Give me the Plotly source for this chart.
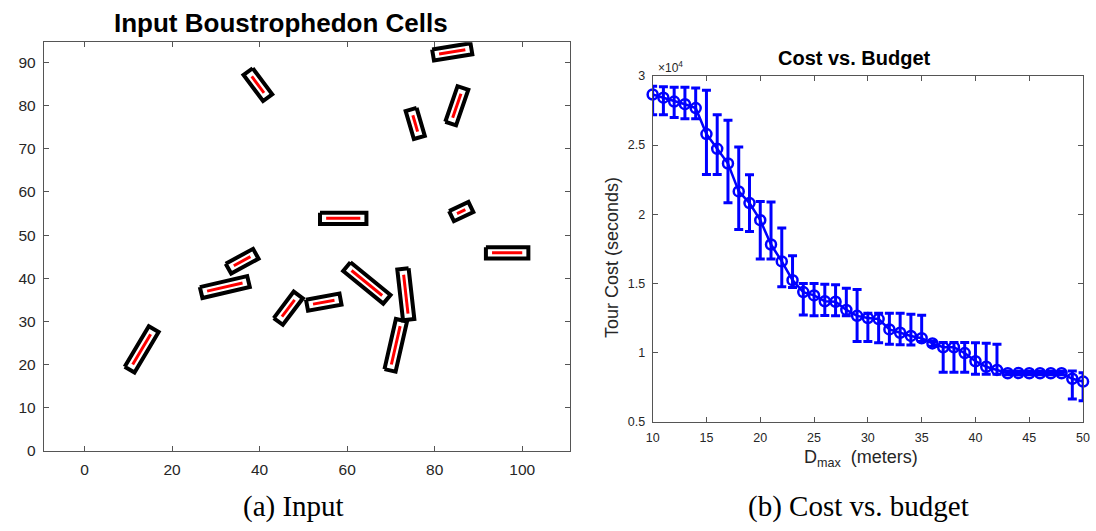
import numpy as np
import plotly.graph_objects as go

# ---------------- Data: (a) Input boustrophedon cells (sweep segment endpoints) ----------------
cell_x1 = [38.2, 81.0, 84.1, 75.0, 85.1, 55.2, 93.1, 34.1, 28.0, 11.0, 45.1, 52.2, 61.0, 72.9, 70.1]
cell_y1 = [86.8, 92.0, 77.2, 77.8, 55.0, 53.9, 45.9, 42.9, 37.0, 20.0, 31.1, 34.0, 41.8, 40.8, 20.0]
cell_x2 = [41.0, 87.0, 86.0, 76.1, 87.0, 63.0, 100.0, 37.9, 36.1, 15.1, 48.0, 57.1, 68.0, 73.9, 72.1]
cell_y2 = [83.0, 93.0, 82.8, 74.0, 55.9, 53.9, 45.9, 45.0, 38.9, 27.0, 35.0, 34.9, 36.0, 31.8, 28.9]
cell_margin_along = 1.4
cell_margin_across = 1.3

left_xticks = [0, 20, 40, 60, 80, 100]
left_yticks = [0, 10, 20, 30, 40, 50, 60, 70, 80, 90]

# ---------------- Data: (b) Cost vs. budget ----------------
dmax = list(range(10, 51))
cost_mean = [28660, 28430, 28150, 27960, 27680, 25800, 24730, 23670, 21650, 20810,
             19570, 17810, 16590, 15230, 14370, 14130, 13710, 13670, 13080, 12650,
             12490, 12420, 11670, 11430, 11200, 11030, 10660, 10380, 10380, 9960,
             9370, 8970, 8740, 8500, 8520, 8500, 8500, 8500, 8500, 8100, 7900]
cost_upper = [29250, 29230, 29180, 29180, 29130, 28970, 27200, 26800, 24870, 22850,
              20930, 20880, 19000, 17000, 15000, 15000, 14930, 14900, 14650, 14550,
              12840, 12840, 12840, 12840, 12770, 12700, 10800, 10730, 10730, 10730,
              10700, 10670, 10600, 8650, 8650, 8620, 8620, 8620, 8620, 8670, 8530]
cost_lower = [27200, 27200, 27000, 26900, 26900, 22870, 22870, 20840, 18900, 18750,
              16760, 16760, 14760, 14700, 12720, 12650, 12670, 12650, 12650, 10800,
              10800, 10700, 10600, 10570, 10550, 10800, 10450, 8570, 8570, 8570,
              8430, 8430, 8430, 8400, 8400, 8400, 8400, 8400, 8400, 6630, 6510]

right_xticks = [10, 15, 20, 25, 30, 35, 40, 45, 50]
right_yticks = [5000, 10000, 15000, 20000, 25000, 30000]
right_yticktext = ["0.5", "1", "1.5", "2", "2.5", "3"]

# ---------------- Build rectangles from segments ----------------
rect_x, rect_y, seg_x, seg_y = [], [], [], []
for x1, y1, x2, y2 in zip(cell_x1, cell_y1, cell_x2, cell_y2):
    p1 = np.array([x1, y1]); p2 = np.array([x2, y2])
    u = (p2 - p1) / np.linalg.norm(p2 - p1)
    n = np.array([-u[1], u[0]])
    a = p1 - cell_margin_along * u
    b = p2 + cell_margin_along * u
    corners = [a + cell_margin_across * n, b + cell_margin_across * n,
               b - cell_margin_across * n, a - cell_margin_across * n,
               a + cell_margin_across * n]
    rect_x += [c[0] for c in corners] + [None]
    rect_y += [c[1] for c in corners] + [None]
    seg_x += [x1, x2, None]
    seg_y += [y1, y2, None]

fig = go.Figure()
fig.add_trace(go.Scatter(x=rect_x, y=rect_y, mode="lines",
                         line=dict(color="black", width=4),
                         xaxis="x", yaxis="y", showlegend=False, hoverinfo="skip"))
fig.add_trace(go.Scatter(x=seg_x, y=seg_y, mode="lines",
                         line=dict(color="#FF0000", width=3),
                         xaxis="x", yaxis="y", showlegend=False, hoverinfo="skip"))

err_plus = [u - m for u, m in zip(cost_upper, cost_mean)]
err_minus = [m - l for m, l in zip(cost_mean, cost_lower)]
fig.add_trace(go.Scatter(x=dmax, y=cost_mean, mode="lines+markers", cliponaxis=False,
                         line=dict(color="#0000FF", width=2.5),
                         marker=dict(symbol="circle-open", size=10, color="#0000FF",
                                     line=dict(width=2.5, color="#0000FF")),
                         error_y=dict(type="data", symmetric=False, array=err_plus,
                                      arrayminus=err_minus, color="#0000FF",
                                      thickness=3, width=4.5),
                         xaxis="x2", yaxis="y2", showlegend=False))

W, H = 1096, 531
def px(x):
    return x / W
def py(y):
    return 1 - y / H

def axis_style(size, standoff):
    return dict(showline=True, linecolor="#555555", linewidth=1, mirror="allticks",
                ticks="inside", ticklen=5, tickcolor="#555555", showgrid=False,
                zeroline=False, ticklabelstandoff=standoff, ticklabeloverflow="allow",
                tickfont=dict(family="Liberation Sans", color="#262626", size=size))

fig.update_layout(
    width=W, height=H, margin=dict(l=0, r=0, t=0, b=0),
    paper_bgcolor="white", plot_bgcolor="white",
    xaxis=dict(domain=[px(37.3), px(569.8)], range=[-9.3, 110.8], tickvals=left_xticks,
               anchor="y", **axis_style(15.5, 5)),
    yaxis=dict(domain=[py(456.6), py(36.4)], range=[0, 94.7], tickvals=left_yticks,
               anchor="x", **axis_style(15.5, 4)),
    xaxis2=dict(domain=[px(654), px(1090)], range=[10, 50], tickvals=right_xticks,
                anchor="y2", **axis_style(12.5, 4)),
    yaxis2=dict(domain=[py(426.7), py(71)], range=[5000, 30000], tickvals=right_yticks,
                ticktext=right_yticktext, anchor="x2", **axis_style(12.5, 4)),
)

ann = [
    dict(text="<b>Input Boustrophedon Cells</b>", x=px(277.5), y=py(16), size=26, fam="Liberation Sans", color="black"),
    dict(text="<b>Cost vs. Budget</b>", x=px(858), y=py(52), size=20, fam="Liberation Sans", color="black"),
    dict(text="×10<sup>4</sup>", x=px(672), y=py(62), size=12, fam="Liberation Sans", color="#262626"),
    dict(text="D<sub>max</sub>  (meters)", x=px(865.5), y=py(465), size=18, fam="Liberation Sans", color="#262626"),
    dict(text="(a) Input", x=px(290.5), y=py(514), size=29, fam="Liberation Serif", color="black"),
    dict(text="(b) Cost vs. budget", x=px(862.5), y=py(514), size=29, fam="Liberation Serif", color="black"),
]
for a in ann:
    fig.add_annotation(text=a["text"], x=a["x"], y=a["y"], xref="paper", yref="paper",
                       xanchor="center", yanchor="middle", showarrow=False,
                       font=dict(family=a["fam"], size=a["size"], color=a["color"]))
fig.add_annotation(text="Tour Cost (seconds)", x=px(612.7), y=py(257.5), xref="paper", yref="paper",
                   xanchor="center", yanchor="middle", showarrow=False, textangle=-90,
                   font=dict(family="Liberation Sans", size=18, color="#262626"))

fig.write_html("out.html")
